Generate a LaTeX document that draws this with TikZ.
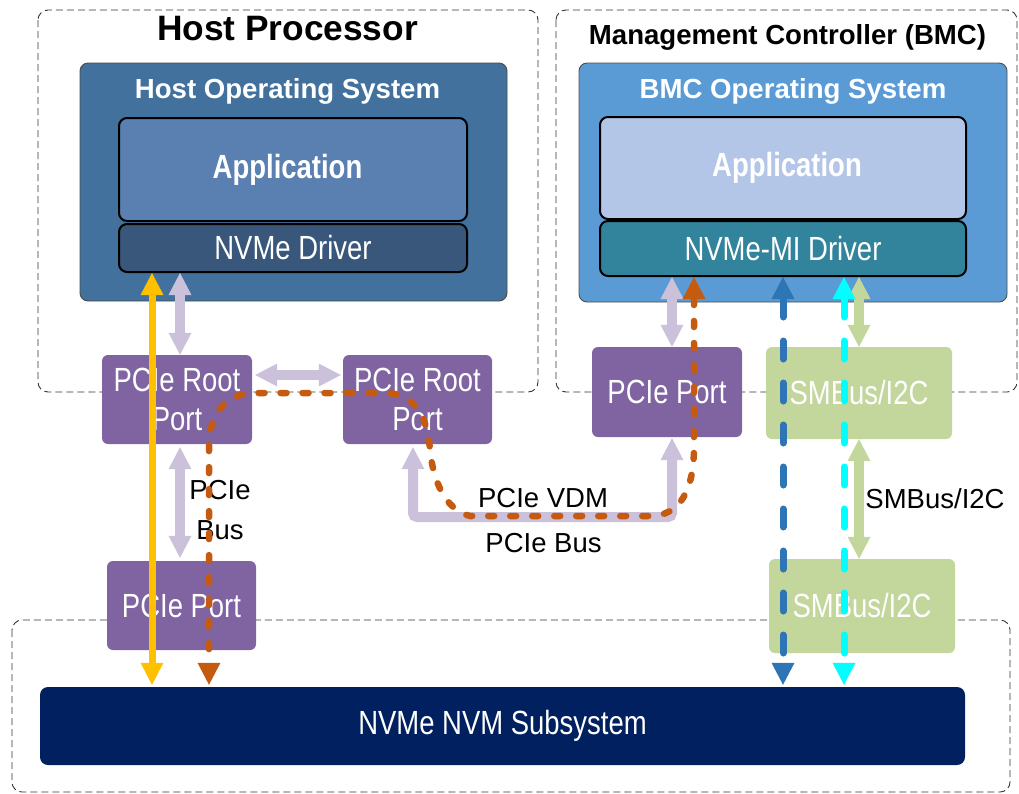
\documentclass[tikz,border=0pt]{standalone}
\usepackage{fontspec}
\setmainfont{Liberation Sans}
\newfontfamily\narrowf[FakeStretch=0.82]{Liberation Sans}
\usetikzlibrary{arrows.meta}
\definecolor{hostos}{HTML}{41719C}
\definecolor{hostapp}{HTML}{5A7FB1}
\definecolor{hostdrv}{HTML}{38577A}
\definecolor{bmcos}{HTML}{5B9BD5}
\definecolor{bmcapp}{HTML}{B4C6E7}
\definecolor{bmcdrv}{HTML}{31849B}
\definecolor{portp}{HTML}{8064A2}
\definecolor{smbg}{HTML}{C3D69B}
\definecolor{nvmblue}{HTML}{002060}
\definecolor{lav}{HTML}{CCC1DA}
\definecolor{orng}{HTML}{C55A11}
\definecolor{blu}{HTML}{2E75B6}
\definecolor{cyn}{HTML}{00FFFF}
\definecolor{yel}{HTML}{FFC000}
\tikzset{
  FT/.tip={Triangle[width=23pt,length=22pt,line width=0pt]},
  container/.style={draw=black!80, line width=0.9pt, dash pattern=on 7pt off 4pt, rounded corners=10pt},
  osbox/.style={draw=black!70, line width=0.9pt, rounded corners=8pt, inner sep=0pt},
  appbox/.style={draw=black, line width=2pt, rounded corners=8pt, inner sep=0pt, text=white, font=\narrowf\bfseries\fontsize{33.5}{39}\selectfont},
  drvbox/.style={draw=black, line width=2pt, rounded corners=8pt, inner sep=0pt, text=white, font=\narrowf\fontsize{33.5}{39}\selectfont},
  portbox/.style={rounded corners=6pt, inner sep=0pt, text=white, align=center, font=\narrowf\fontsize{33.5}{39}\selectfont},
  ostitle/.style={text=white, font=\bfseries\fontsize{27.6}{30}\selectfont, anchor=base, inner sep=0pt},
  lbl/.style={text=black, font=\fontsize{27.5}{40}\selectfont, inner sep=0pt, align=center},
  lavarrow/.style={draw=lav, line width=10pt, {FT}-{FT}},
  grnarrow/.style={draw=smbg, line width=10pt, {FT}-{FT}},
  yelarrow/.style={draw=yel, line width=7pt, {FT}-{FT}},
  dasharrow/.style={line width=7pt, line cap=round, dash pattern=on 18pt off 24pt, {FT}-{FT}},
  orarrow/.style={draw=orng, line width=6.5pt, line cap=round, dash pattern=on 6pt off 16pt, {FT}-{FT}}
}
\begin{document}
\begin{tikzpicture}[x=1pt,y=-1pt]
\useasboundingbox (0,0) rectangle (1019,793);
% containers
\draw[container] (38,10) rectangle (538,392);
\draw[container] (556,10) rectangle (1017,392);
\draw[container] (12,620) rectangle (1010,792);
\node[anchor=base, inner sep=0pt, font=\bfseries\fontsize{35.3}{38}\selectfont] (hosttitle) at (287.5,40) {Host Processor};
\node[anchor=base, inner sep=0pt, font=\bfseries\fontsize{27.6}{30}\selectfont] (bmctitle) at (787.5,44) {Management Controller (BMC)};
% host OS
\node[osbox, fill=hostos, minimum width=427pt, minimum height=238pt] (hostos) at (293.5,182) {};
\node[ostitle] (hostostitle) at (287.5,98) {Host Operating System};
\node[appbox, fill=hostapp, minimum width=348pt, minimum height=103pt] (hostapp) at (293,169.5) {\hspace*{-11pt}Application};
\node[drvbox, fill=hostdrv, minimum width=348pt, minimum height=48pt] (hostdrv) at (293,248) {NVMe Driver};
% BMC OS
\node[osbox, fill=bmcos, minimum width=428pt, minimum height=239pt] (bmcos) at (793,182.5) {};
\node[ostitle] (bmcostitle) at (793,98) {BMC Operating System};
\node[appbox, fill=bmcapp, minimum width=366pt, minimum height=102pt] (bmcapp) at (783,168) {\hspace*{8pt}Application};
\node[drvbox, fill=bmcdrv, minimum width=366pt, minimum height=55pt] (bmcdrv) at (783,248.5) {NVMe-MI Driver};
% ports
\node[portbox, fill=portp, minimum width=150pt, minimum height=89pt] (rp1) at (177,399.5) {PCIe Root\\Port};
\node[portbox, fill=portp, minimum width=149pt, minimum height=89pt] (rp2) at (417.5,399.5) {PCIe Root\\Port};
\node[portbox, fill=portp, minimum width=150pt, minimum height=90pt] (bmcport) at (667,392) {PCIe Port};
\node[portbox, fill=smbg, minimum width=186pt, minimum height=92pt] (smb1) at (859,393) {SMBus/I2C};
\node[portbox, fill=smbg, minimum width=186pt, minimum height=94pt] (smb2) at (862,606) {SMBus/I2C};
\node[portbox, fill=portp, minimum width=149pt, minimum height=89pt] (hostport) at (181.5,605.5) {PCIe Port};
\node[portbox, fill=nvmblue, rounded corners=8pt, minimum width=925pt, minimum height=78pt] (nvm) at (502.5,726) {NVMe NVM Subsystem};
% labels
\node[lbl] (lblbus1) at (220,510) {PCIe\\Bus};
\node[lbl, anchor=base] (lblvdm) at (543,507) {PCIe VDM};
\node[lbl, anchor=base] (lblbus2) at (543.5,552) {PCIe Bus};
\node[lbl, anchor=base] (lblsmb) at (935,508) {SMBus/I2C};
% lavender connectors
\draw[lavarrow] (hostdrv.south -| 180,0) -- (rp1.north -| 180,0);
\draw[lavarrow, shorten <=3pt, shorten >=2pt] (rp1.east |- 0,375) -- (rp2.west |- 0,375);
\draw[lavarrow, shorten <=3pt, shorten >=3pt] (rp1.south -| 180,0) -- (hostport.north -| 180,0);
\draw[lavarrow] (bmcdrv.south -| 672,0) -- (bmcport.north -| 672,0);
\draw[lavarrow, rounded corners=4pt, shorten <=1pt, shorten >=3pt] (bmcport.south -| 672,0) -- (672,517) -- (413,517) -- (rp2.south -| 413,0);
% green connectors
\draw[grnarrow] (bmcdrv.south -| 859,0) -- (smb1.north -| 859,0);
\draw[grnarrow] (smb1.south -| 859,0) -- (smb2.north -| 859,0);
% yellow
\draw[yelarrow, shorten >=2pt] (hostdrv.south -| 152,0) -- (nvm.north -| 152,0);
% blue and cyan dashed
\draw[dasharrow, draw=blu, shorten >=2pt] (bmcdrv.south -| 783,0) -- (nvm.north -| 783,0);
\draw[dasharrow, draw=cyn, shorten >=2pt] (bmcdrv.south -| 844,0) -- (nvm.north -| 844,0);
% orange VDM path
\draw[orarrow, shorten >=2pt] (bmcdrv.south -| 694,0) -- (694,447)
  .. controls (694,490) and (680,516) .. (650,516) -- (470,516)
  .. controls (445,510) and (433,480) .. (430,450)
  .. controls (427,410) and (410,393) .. (385,393) -- (255,393)
  .. controls (225,393) and (209,415) .. (209,445) -- (nvm.north -| 209,0);
\end{tikzpicture}
\end{document}
